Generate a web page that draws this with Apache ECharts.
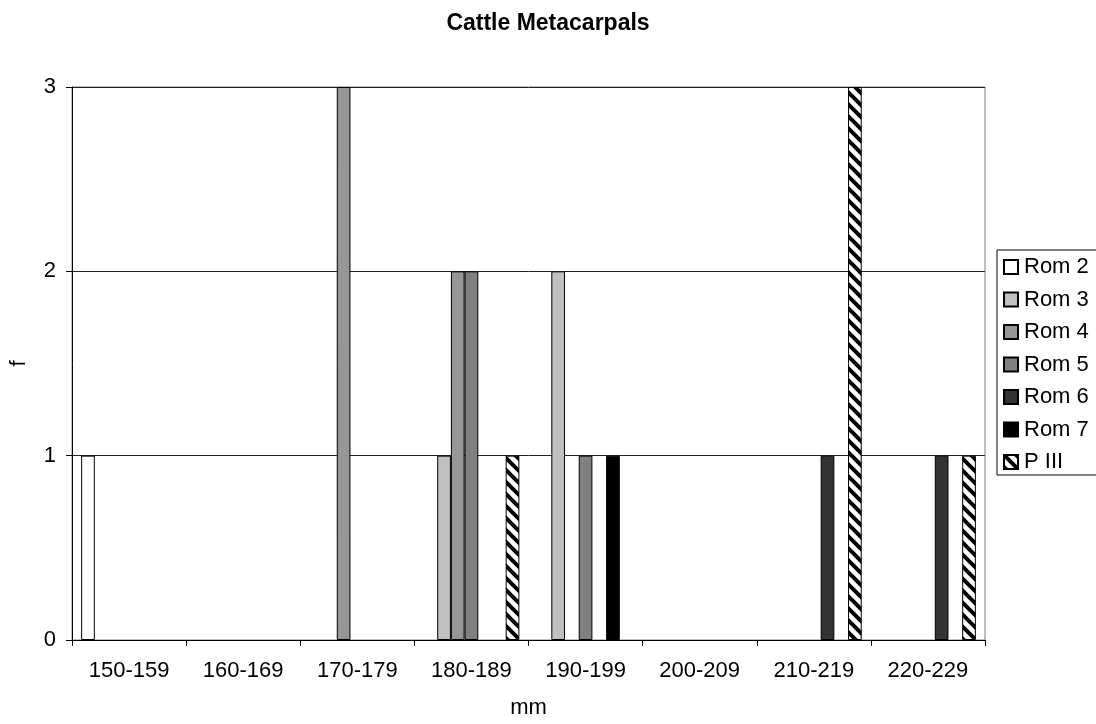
<!DOCTYPE html>
<html>
<head>
<meta charset="utf-8">
<script src="https://cdn.jsdelivr.net/npm/echarts@6/dist/echarts.min.js"></script>
<style>
html,body{margin:0;padding:0;background:#fff;}
#chart{width:1096px;height:724px;}
</style>
</head>
<body>
<div id="chart"></div>
<script>
const categories = ['150-159','160-169','170-179','180-189','190-199','200-209','210-219','220-229'];
const rom2 = [1,0,0,0,0,0,0,0];
const rom3 = [0,0,0,1,2,0,0,0];
const rom4 = [0,0,3,2,0,0,0,0];
const rom5 = [0,0,0,2,1,0,0,0];
const rom6 = [0,0,0,0,0,0,1,1];
const rom7 = [0,0,0,0,1,0,0,0];
const p3   = [0,0,0,1,0,0,3,1];
const yTicks = [0,1,2,3];

function hatch(){
  const s = 12;
  const c = document.createElement('canvas');
  c.width = s; c.height = s;
  const g = c.getContext('2d');
  g.fillStyle = '#fff'; g.fillRect(0,0,s,s);
  g.strokeStyle = '#000'; g.lineWidth = 4;
  g.beginPath();
  g.moveTo(-3,-3); g.lineTo(s+3,s+3);
  g.moveTo(-3,s-3); g.lineTo(3,s+3);
  g.moveTo(s-3,-3); g.lineTo(s+3,3);
  g.stroke();
  return {image: c, repeat: 'repeat'};
}

const font = 'Arial, "Liberation Sans", sans-serif';
const defs = [
  ['Rom 2', rom2, '#ffffff'],
  ['Rom 3', rom3, '#c0c0c0'],
  ['Rom 4', rom4, '#969696'],
  ['Rom 5', rom5, '#808080'],
  ['Rom 6', rom6, '#333333'],
  ['Rom 7', rom7, '#000000'],
  ['P III', p3, hatch()]
];

const chart = echarts.init(document.getElementById('chart'), null, {renderer:'canvas'});
chart.setOption({
  backgroundColor: '#fff',
  animation: false,
  title: {
    text: 'Cattle Metacarpals',
    left: 'center', top: 7,
    textStyle: {fontFamily: font, fontSize: 23, fontWeight: 'bold', color: '#000'}
  },
  legend: {
    orient: 'vertical',
    left: 997, top: 250,
    width: 110,
    padding: [6, 20, 2, 6],
    itemGap: 10.5,
    itemWidth: 14, itemHeight: 14,
    icon: 'rect',
    borderColor: '#000', borderWidth: 1,
    textStyle: {fontFamily: font, fontSize: 22, color: '#000', padding: [0,0,0,1]},
    data: defs.map(d => d[0])
  },
  grid: {
    left: 72, right: 111, top: 87, bottom: 84,
    show: true, borderColor: '#808080', borderWidth: 1
  },
  xAxis: {
    type: 'category',
    data: categories,
    name: 'mm', nameLocation: 'middle', nameGap: 57,
    nameTextStyle: {fontFamily: font, fontSize: 22, color: '#000'},
    axisLine: {lineStyle: {color: '#000', width: 1}},
    axisTick: {show: true, length: 6, lineStyle: {color: '#000'}},
    axisLabel: {fontFamily: font, fontSize: 22, color: '#000', margin: 20},
    splitLine: {show: false}
  },
  yAxis: {
    type: 'value',
    min: yTicks[0], max: yTicks[yTicks.length-1], interval: 1,
    name: 'f', nameLocation: 'middle', nameGap: 42, nameRotate: 90,
    nameTextStyle: {fontFamily: font, fontSize: 22, color: '#000'},
    axisLine: {show: true, lineStyle: {color: '#000', width: 1}},
    axisTick: {show: true, length: 6, lineStyle: {color: '#000'}},
    axisLabel: {fontFamily: font, fontSize: 22, color: '#000', margin: 16},
    splitLine: {show: true, lineStyle: {color: '#222', width: 1}}
  },
  series: defs.map(d => ({
    name: d[0], type: 'bar',
    data: d[1].map(v => v === 0 ? null : v),
    barGap: '0%', barCategoryGap: '16%',
    itemStyle: {color: d[2], borderColor: '#000', borderWidth: 1},
    emphasis: {disabled: true}
  }))
});
</script>
</body>
</html>
